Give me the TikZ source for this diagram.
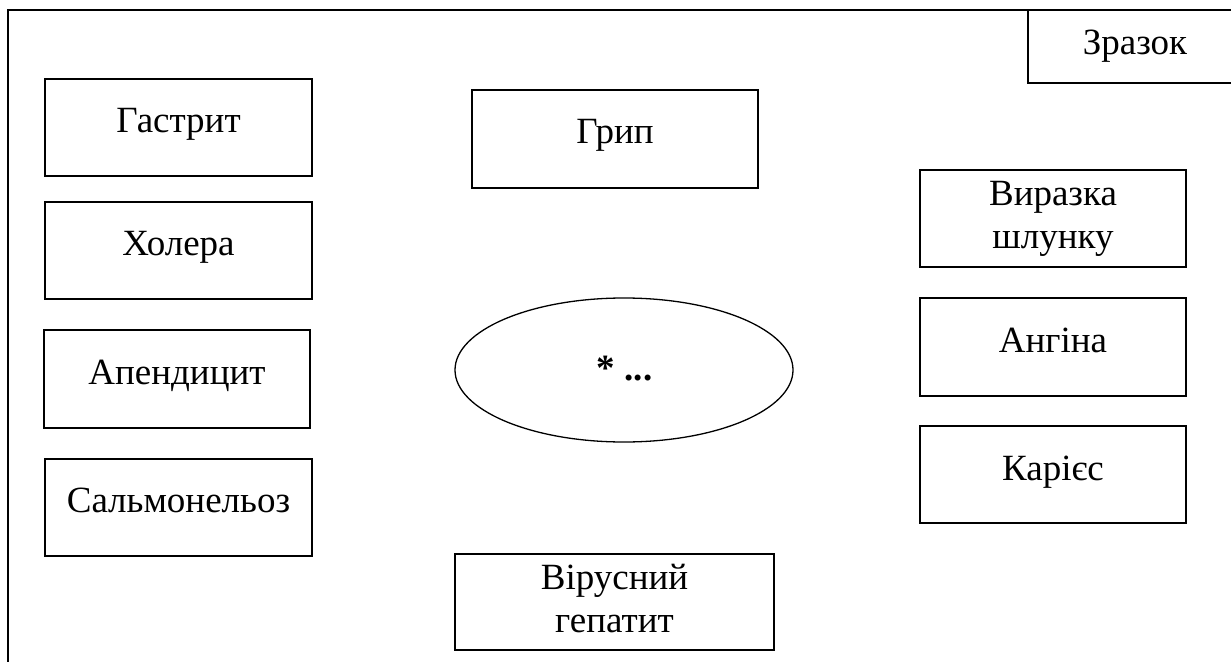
\documentclass[tikz,border=0pt]{standalone}
\usepackage{fontspec}
\setmainfont{Liberation Serif}
\newfontfamily\tnr{Liberation Serif}
\usetikzlibrary{shapes.geometric}
\begin{document}
\begin{tikzpicture}[x=1pt,y=-1pt,
  frameline/.style={line width=1.5pt},
  boxnode/.style={draw,line width=1.3pt,rectangle,inner sep=0pt},
  lbl/.style={inner sep=0pt,anchor=base,align=center,font=\tnr\fontsize{37}{42.5}\selectfont},
]
\useasboundingbox (0,0) rectangle (1231,661);
% outer frame
\coordinate (fbl) at (8,665);
\coordinate (ftl) at (8,10);
\coordinate (ftr) at (1240,10);
\draw[frameline] (fbl) -- (ftl) -- (ftr);
% sample box
\node[boxnode,minimum width=214pt,minimum height=73pt] (zr) at (1135,46.5) {};
\node[lbl] (zrt) at (1135,55) {Зразок};
% left column
\node[boxnode,minimum width=267pt,minimum height=97pt] (g) at (178.5,127.5) {};
\node[lbl] (gt) at (178.5,132) {Гастрит};
\node[boxnode,minimum width=267pt,minimum height=97pt] (h) at (178.5,250.5) {};
\node[lbl] (ht) at (178.5,255) {Холера};
\node[boxnode,minimum width=266pt,minimum height=98pt] (a) at (177,379) {};
\node[lbl] (at) at (177,384) {Апендицит};
\node[boxnode,minimum width=267pt,minimum height=97pt] (s) at (178.5,507.5) {};
\node[lbl] (st) at (178.5,512) {Сальмонельоз};
% middle
\node[boxnode,minimum width=286pt,minimum height=98pt] (gr) at (615,139) {};
\node[lbl] (grt) at (615,143) {Грип};
\node[draw,line width=1.3pt,ellipse,minimum width=338pt,minimum height=144pt,inner sep=0pt] (el) at (624,370) {};
\node[lbl] (elt) at (624.5,380) {\textbf{* ...}};
\node[boxnode,minimum width=319pt,minimum height=96pt] (vh) at (614.5,602) {};
\node[lbl] (vht) at (614.5,632) {Вірусний\\гепатит};
% right column
\node[boxnode,minimum width=266pt,minimum height=97pt] (vs) at (1053,218.5) {};
\node[lbl] (vst) at (1053,248) {Виразка\\шлунку};
\node[boxnode,minimum width=266pt,minimum height=98pt] (an) at (1053,347) {};
\node[lbl] (ant) at (1053,352) {Ангіна};
\node[boxnode,minimum width=266pt,minimum height=97pt] (ka) at (1053,474.5) {};
\node[lbl] (kat) at (1053,480) {Карієс};
\end{tikzpicture}
\end{document}
